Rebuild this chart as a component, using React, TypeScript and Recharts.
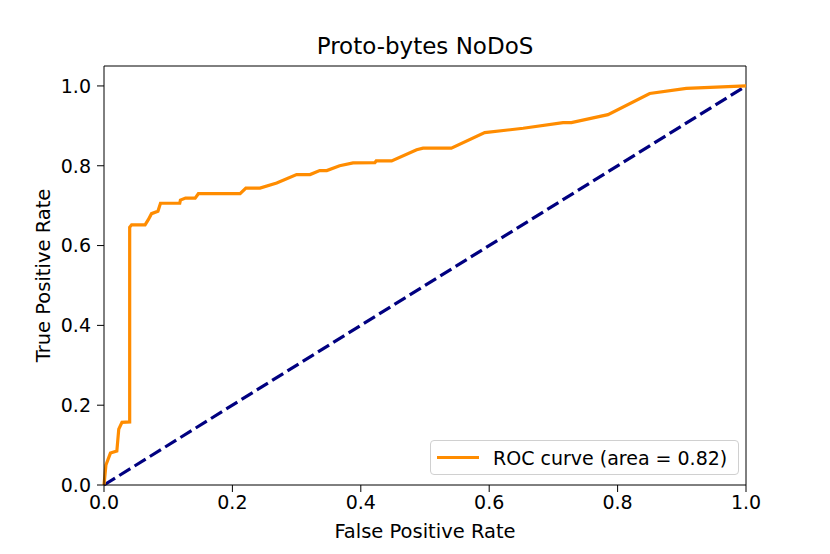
import {
  LineChart,
  Line,
  XAxis,
  YAxis,
  ReferenceLine,
  Label,
} from 'recharts';

// ROC curve points
const rocFpr = [
  0, 0.003, 0.01, 0.02, 0.023, 0.023, 0.028, 0.04, 0.04, 0.043, 0.064, 0.069,
  0.074, 0.084, 0.088, 0.118, 0.119, 0.127, 0.142, 0.147, 0.212, 0.221, 0.243,
  0.269, 0.3, 0.321, 0.336, 0.347, 0.367, 0.388, 0.422, 0.424, 0.448, 0.487,
  0.497, 0.541, 0.593, 0.653, 0.715, 0.728, 0.785, 0.85, 0.907, 1.0,
];
const rocTpr = [
  0, 0.05, 0.08, 0.085, 0.14, 0.14, 0.157, 0.158, 0.646, 0.652, 0.652, 0.665,
  0.68, 0.686, 0.706, 0.706, 0.714, 0.719, 0.719, 0.73, 0.73, 0.744, 0.744,
  0.757, 0.778, 0.778, 0.788, 0.788, 0.8, 0.807, 0.808, 0.812, 0.812, 0.84,
  0.844, 0.844, 0.883, 0.894, 0.908, 0.908, 0.928, 0.981, 0.994, 1.0,
];
const chanceFpr = [0, 1];
const chanceTpr = [0, 1];

const xTicks = [0, 0.2, 0.4, 0.6, 0.8, 1.0];
const yTicks = [0, 0.2, 0.4, 0.6, 0.8, 1.0];

const TITLE = 'Proto-bytes NoDoS';
const X_LABEL = 'False Positive Rate';
const Y_LABEL = 'True Positive Rate';
const AUC = 0.82;

const FONT = '"DejaVu Sans", sans-serif';
const ORANGE = '#ff8c00';
const NAVY = '#000080';

const rocData = rocFpr.map((fpr, i) => ({ fpr, tpr: rocTpr[i] }));
const chanceData = chanceFpr.map((fpr, i) => ({ fpr, tpr: chanceTpr[i] }));

const tickStyle = { fill: '#000', fontSize: 19, fontFamily: FONT };
const labelStyle = { fill: '#000', fontSize: 19.5, fontFamily: FONT };

// matplotlib-style legend box in the lower right corner
function RocLegend() {
  return (
    <div
      style={{
        position: 'absolute',
        left: 430,
        top: 440,
        width: 309,
        height: 35,
        border: '1px solid #d0d0d0',
        borderRadius: 4,
        background: 'rgba(255,255,255,0.8)',
        display: 'flex',
        alignItems: 'center',
        fontFamily: FONT,
        fontSize: 19,
        color: '#000',
        boxSizing: 'border-box',
      }}
    >
      <div
        style={{ width: 42, height: 3, background: ORANGE, marginLeft: 6, marginRight: 14 }}
      />
      <span style={{ whiteSpace: 'nowrap' }}>ROC curve (area = {AUC.toFixed(2)})</span>
    </div>
  );
}

export default function App() {
  return (
    <div style={{ position: 'absolute', left: 0, top: 0, width: 830, height: 554, background: '#fff' }}>
      <div
        style={{
          position: 'absolute',
          top: 33,
          left: 104,
          width: 642,
          textAlign: 'center',
          fontFamily: FONT,
          fontSize: 23,
          color: '#000',
        }}
      >
        {TITLE}
      </div>
      <LineChart
        width={830}
        height={554}
        margin={{ top: 66, right: 84, left: 44, bottom: 0 }}
      >
        <XAxis
          dataKey="fpr"
          type="number"
          domain={[0, 1]}
          ticks={xTicks}
          tickFormatter={(v) => v.toFixed(1)}
          allowDuplicatedCategory={false}
          height={69}
          tick={tickStyle}
          tickSize={7}
          tickMargin={4}
          tickLine={{ stroke: '#000' }}
          axisLine={{ stroke: '#000' }}
        >
          <Label value={X_LABEL} position="insideBottom" offset={16} style={labelStyle} />
        </XAxis>
        <YAxis
          type="number"
          domain={[0, 1.05]}
          ticks={yTicks}
          tickFormatter={(v) => v.toFixed(1)}
          width={60}
          tick={tickStyle}
          tickSize={7}
          tickMargin={6}
          tickLine={{ stroke: '#000' }}
          axisLine={{ stroke: '#000' }}
        >
          <Label
            value={Y_LABEL}
            angle={-90}
            position="insideLeft"
            offset={-1}
            style={{ ...labelStyle, textAnchor: 'middle' }}
          />
        </YAxis>
        <ReferenceLine y={1.05} stroke="#000" />
        <ReferenceLine x={1} stroke="#000" />
        <Line
          data={chanceData}
          dataKey="tpr"
          stroke={NAVY}
          strokeWidth={3.2}
          strokeDasharray="13 5"
          dot={false}
          type="linear"
          isAnimationActive={false}
        />
        <Line
          data={rocData}
          dataKey="tpr"
          stroke={ORANGE}
          strokeWidth={3.2}
          dot={false}
          type="linear"
          isAnimationActive={false}
          name="ROC curve"
        />
      </LineChart>
      <RocLegend />
    </div>
  );
}
